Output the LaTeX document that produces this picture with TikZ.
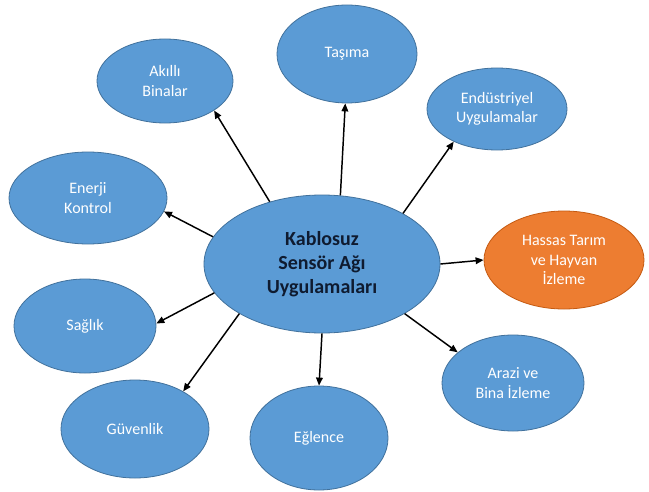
\documentclass[tikz,border=0pt]{standalone}
\usepackage{fontspec}
\setmainfont{Carlito}
\usetikzlibrary{shapes.geometric,arrows.meta}
\definecolor{appblue}{HTML}{5B9BD5}
\definecolor{appedge}{HTML}{41719C}
\definecolor{apporange}{HTML}{ED7D31}
\definecolor{orangeedge}{HTML}{C55A11}
\definecolor{hubtext}{HTML}{0F1B30}
\begin{document}
\begin{tikzpicture}[x=0.75pt,y=-0.75pt,
  app/.style={ellipse,fill=appblue,draw=appedge,line width=0.6pt,inner sep=0pt,
    align=center,text=white,font=\fontsize{12}{14.5}\selectfont},
  hot/.style={app,fill=apporange,draw=orangeedge},
  hub/.style={app,text=hubtext,font=\fontsize{15}{18}\selectfont\bfseries},
  link/.style={draw=black,line width=1.1pt,-{Triangle[length=6pt,width=5pt]}}]
\useasboundingbox (0,0) rectangle (649,492);
\fill[white] (0,0) rectangle (649,492);

% hub
\node[hub,minimum width=177pt,minimum height=103.5pt] (c) at (322,264)
  {Kablosuz\\Sensör Ağı\\Uygulamaları};

% application areas
\node[app,minimum width=102pt,minimum height=63pt] (ak) at (165,81) {Akıllı\\Binalar};
\node[app,minimum width=105pt,minimum height=73.5pt] (ta) at (347,54) {Taşıma};
\node[app,minimum width=105pt,minimum height=61.5pt] (en) at (497,109) {Endüstriyel\\Uygulamalar};
\node[app,minimum width=118.5pt,minimum height=69pt] (ek) at (88,198) {Enerji\\Kontrol};
\node[hot,minimum width=120pt,minimum height=73.5pt] (hs) at (564,260) {Hassas Tarım\\ve Hayvan\\İzleme};
\node[app,minimum width=106.5pt,minimum height=70.5pt] (sg) at (85,326) {Sağlık};
\node[app,minimum width=106.5pt,minimum height=72pt] (ar) at (513,383) {Arazi ve\\Bina İzleme};
\node[app,minimum width=111pt,minimum height=73.5pt] (gv) at (135,429) {Güvenlik};
\node[app,minimum width=103.5pt,minimum height=78pt] (eg) at (319,438) {Eğlence};

% connectors from the hub
\draw[link] (c.130) -- (ak.-31);
\draw[link] (c.75) -- (ta.-92);
\draw[link] (c.32) -- (en.217);
\draw[link] (c.166) -- (ek.-10);
\draw[link] (c.0) -- (hs.180);
\draw[link] (c.195) -- (sg.2);
\draw[link] (c.211) -- (gv.38);
\draw[link] (c.-90) -- (eg.90);
\draw[link] (c.-31) -- (ar.151);
\end{tikzpicture}
\end{document}
